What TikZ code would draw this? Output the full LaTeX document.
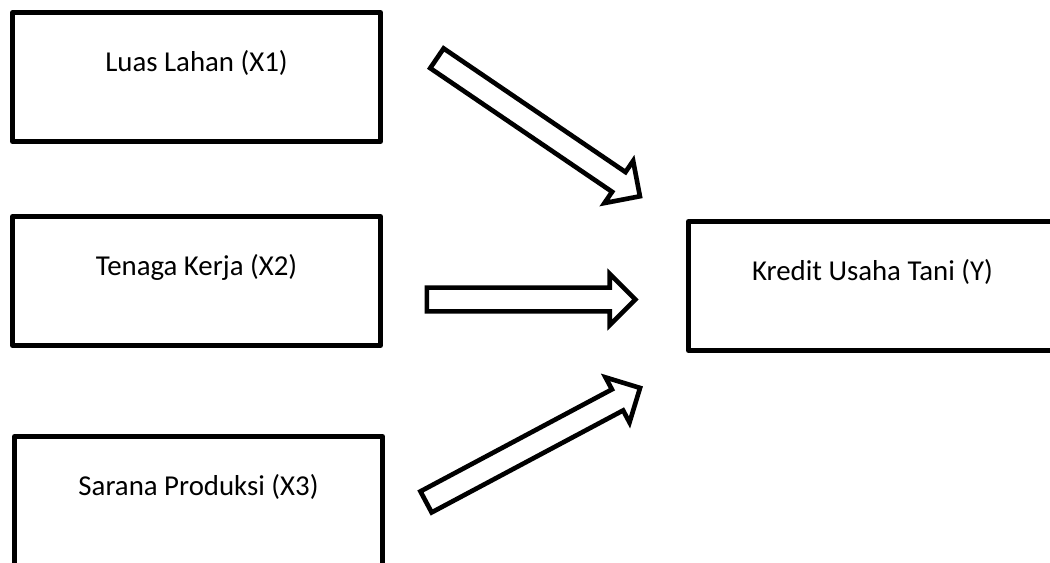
\documentclass[tikz,border=0pt]{standalone}
\usepackage{fontspec}
\setmainfont{Carlito}
\usetikzlibrary{shapes.arrows, calc}

\begin{document}
\begin{tikzpicture}[x=0.025cm, y=-0.025cm,
    varbox/.style={draw, line width=3.5pt, line join=round, minimum width=9.2cm, minimum height=3.225cm,
        inner sep=0pt, text height=0pt, text depth=7.8pt, font=\fontsize{20.5}{24}\selectfont},
    blockarrow/.style={single arrow, draw, line width=3.3pt, fill=white, inner sep=0.24cm, minimum width=0pt,
        single arrow head extend=0.34cm, single arrow tip angle=90, anchor=tail}]
    \useasboundingbox (0,0) rectangle (1050,563);
    \clip (0,0) rectangle (1050,563);
    % Variables
    \node[varbox] (luas) at (196.5,77) {Luas Lahan (X1)};
    \node[varbox] (tenaga) at (196.5,281) {Tenaga Kerja (X2)};
    \node[varbox] (sarana) at (198.5,501) {Sarana Produksi (X3)};
    \node[varbox] (kredit) at (872.5,286) {Kredit Usaha Tani (Y)};
    % Arrow ends
    \coordinate (a1s) at (435,57);
    \coordinate (a1e) at (638,195);
    \coordinate (a2s) at (424.5,299.5);
    \coordinate (a2e) at (633,299.5);
    \coordinate (a3s) at (424,503);
    \coordinate (a3e) at (638,389);
    \foreach \s/\e in {a1s/a1e, a2s/a2e, a3s/a3e}
    {
        \path let \p1=($(\e)-(\s)$), \n1={atan2(\y1,\x1)}, \n2={veclen(\x1,\y1)} in
            node[blockarrow, rotate=\n1, minimum height=\n2] (arr\s) at (\s) {};
    }
\end{tikzpicture}
\end{document}
